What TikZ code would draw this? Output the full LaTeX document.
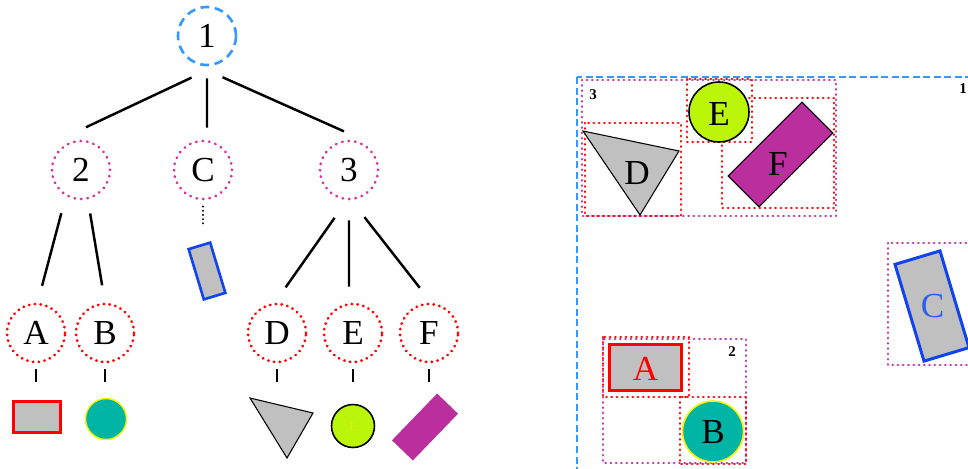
\documentclass[tikz,border=0pt]{standalone}
\usepackage{fontspec}
\setmainfont{Liberation Serif}

\definecolor{rootblue}{RGB}{51,153,255}
\definecolor{innerpink}{RGB}{214,48,160}
\definecolor{boxmag}{RGB}{190,50,170}
\definecolor{edgeblue}{RGB}{17,68,238}
\definecolor{labelblue}{RGB}{45,95,235}
\definecolor{shapegray}{RGB}{192,192,192}
\definecolor{shapeteal}{RGB}{0,181,165}
\definecolor{shapelime}{RGB}{187,245,10}
\definecolor{faintlime}{RGB}{218,240,30}
\definecolor{shapemag}{RGB}{187,46,158}

\tikzset{
  bigfont/.style={font=\fontsize{20}{22}\selectfont},
  rootnode/.style={circle, draw=rootblue, line width=1.5pt, dash pattern=on 5pt off 3.2pt,
    minimum size=1.16cm, inner sep=0pt, bigfont},
  innernode/.style={circle, draw=innerpink, line width=1.6pt, line cap=round,
    dash pattern=on 0.2pt off 3.5pt, minimum size=1.16cm, inner sep=0pt, bigfont},
  leafnode/.style={innernode, draw=red, dash pattern=on 0.2pt off 3.1pt},
  branch/.style={line width=1.4pt, shorten <=0.34cm, shorten >=0.11cm},
  tick/.style={line width=1.5pt},
  mbr/.style={line width=1.5pt, line cap=round, dash pattern=on 0.2pt off 2.8pt},
  lbl/.style={inner sep=0pt, bigfont},
  tag/.style={inner sep=0pt, font=\fontsize{8.5}{9}\selectfont\bfseries},
}

\begin{document}
\begin{tikzpicture}[x=0.02cm, y=-0.02cm]
  \useasboundingbox (0,0) rectangle (968,468);
  \clip (0,0) rectangle (968,468);

  % the tree
  \node[rootnode]  (n1) at (207,36)  {1};
  \node[innernode] (n2) at (81,170)  {2};
  \node[innernode] (nC) at (203,170) {C};
  \node[innernode] (n3) at (349,170) {3};
  \node[leafnode]  (nA) at (36,333)  {A};
  \node[leafnode]  (nB) at (105,333) {B};
  \node[leafnode]  (nD) at (277,333) {D};
  \node[leafnode]  (nE) at (353,333) {E};
  \node[leafnode]  (nF) at (429,333) {F};

  \draw[branch] ([yshift=-0.08cm]n1.south) -- ([yshift=0.2cm]n2.north); %Draw 1 to 2
  \draw[branch, shorten <=0.16cm, shorten >=0.04cm]
    ([yshift=-0.08cm]n1.south) -- ([xshift=0.08cm,yshift=0.2cm]nC.north); %Draw 1 to C
  \draw[branch] ([yshift=-0.08cm]n1.south) -- ([yshift=0.12cm]n3.north); %Draw 1 to 3

  \draw[branch, shorten <=0.35cm, shorten >=0.35cm] (n2.240) -- (nA.87); %Draw 2 to A
  \draw[branch, shorten <=0.28cm, shorten >=0.35cm] (n2.283) -- (nB.90); %Draw 2 to B

  \draw[branch, shorten <=0.5cm, shorten >=0.3cm]
    ([yshift=0.06cm]n3.south) -- ([yshift=0.06cm]nD.north); %Draw 3 to D
  \draw[branch, shorten <=0.46cm, shorten >=0.26cm]
    ([yshift=0.06cm]n3.south) -- ([xshift=-0.08cm,yshift=0.06cm]nE.north); %Draw 3 to E
  \draw[branch, shorten <=0.5cm, shorten >=0.3cm]
    ([yshift=0.06cm]n3.south) -- ([yshift=0.06cm]nF.north); %Draw 3 to F

  \foreach \x in {A,B,D,E,F}
    \draw[tick] ([yshift=-0.12cm]n\x.south) -- ([yshift=-0.38cm]n\x.south); %Draw leaf ticks
  \draw[line width=1.2pt, line cap=round, dash pattern=on 0.1pt off 2.3pt]
    ([yshift=-0.12cm]nC.south) -- ([yshift=-0.52cm]nC.south); %Draw C link

  % objects under the leaves
  \node[draw=edgeblue, line width=1.5pt, fill=shapegray, minimum width=0.45cm,
    minimum height=1.05cm, inner sep=0pt, rotate=16.8] (sC) at (207,271) {};
  \node[draw=red, line width=1.7pt, fill=shapegray, minimum width=0.94cm,
    minimum height=0.62cm, inner sep=0pt] (sA) at (37,417) {};
  \node[circle, draw=yellow, line width=0.8pt, fill=shapeteal, minimum size=0.82cm,
    inner sep=0pt] (sB) at (106,419) {};
  \draw[fill=shapegray, line width=0.6pt] (250,398) -- (313,413) -- (287,458) -- cycle; %Draw D
  \node[circle, draw, line width=0.9pt, fill=shapelime, minimum size=0.86cm, inner sep=0pt,
    text=faintlime, font=\fontsize{7}{8}\selectfont] (sE) at (353,426) {E};
  \node[fill=shapemag, minimum width=1.3cm, minimum height=0.58cm, inner sep=0pt,
    rotate=46] (sF) at (425,427) {};

  % regions
  \draw[rootblue, line width=0.7pt, dash pattern=on 4pt off 2pt] (577,77) rectangle (1000,500); %Draw 1
  \node[tag] (t1) at (963,89) {1};

  \draw[boxmag, mbr] (582,80) rectangle (836,216); %Draw 3
  \node[tag] (t3) at (593,95) {3};
  \draw[red, mbr] (585,123) rectangle (681,216);
  \draw[red, mbr] (687,79) rectangle (752,142);
  \draw[red, mbr] (722,98) rectangle (834,208);
  \draw[fill=shapegray, line width=0.6pt] (583,131) -- (679,151) -- (640,215) -- cycle;
  \node[lbl] (lD) at (637,173) {D};
  \node[circle, draw, line width=0.9pt, fill=shapelime, minimum size=1.2cm, inner sep=0pt]
    (rE) at (719,112) {};
  \node[lbl] (lE) at (719,114) {E};
  \node[draw, line width=0.6pt, fill=shapemag, minimum width=2.09cm, minimum height=0.876cm,
    inner sep=0pt, rotate=45] (rF) at (780.5,154.5) {};
  \node[lbl] (lF) at (778,164) {F};

  \draw[boxmag, mbr] (603,339) rectangle (746,463); %Draw 2
  \node[tag] (t2) at (732,352) {2};
  \draw[red, mbr] (603,337) rectangle (689,397);
  \draw[red, mbr] (680,397) rectangle (746,464);
  \node[draw=red, line width=1.7pt, fill=shapegray, minimum width=1.44cm, minimum height=0.92cm,
    inner sep=0pt] (rA) at (645.5,367.5) {};
  \node[lbl, text=red] (lA) at (645.5,369) {A};
  \node[circle, draw=yellow, line width=0.9pt, fill=shapeteal, minimum size=1.22cm, inner sep=0pt]
    (rB) at (713,431.5) {};
  \node[lbl] (lB) at (713,432) {B};

  \draw[boxmag, mbr] (888,243) rectangle (1000,365); %Draw C
  \node[draw=edgeblue, line width=1.7pt, fill=shapegray, minimum width=0.94cm,
    minimum height=2.02cm, inner sep=0pt, rotate=16.7] (rC) at (932,306) {};
  \node[lbl, text=labelblue] (lC) at (932.5,306) {C};
\end{tikzpicture}
\end{document}
